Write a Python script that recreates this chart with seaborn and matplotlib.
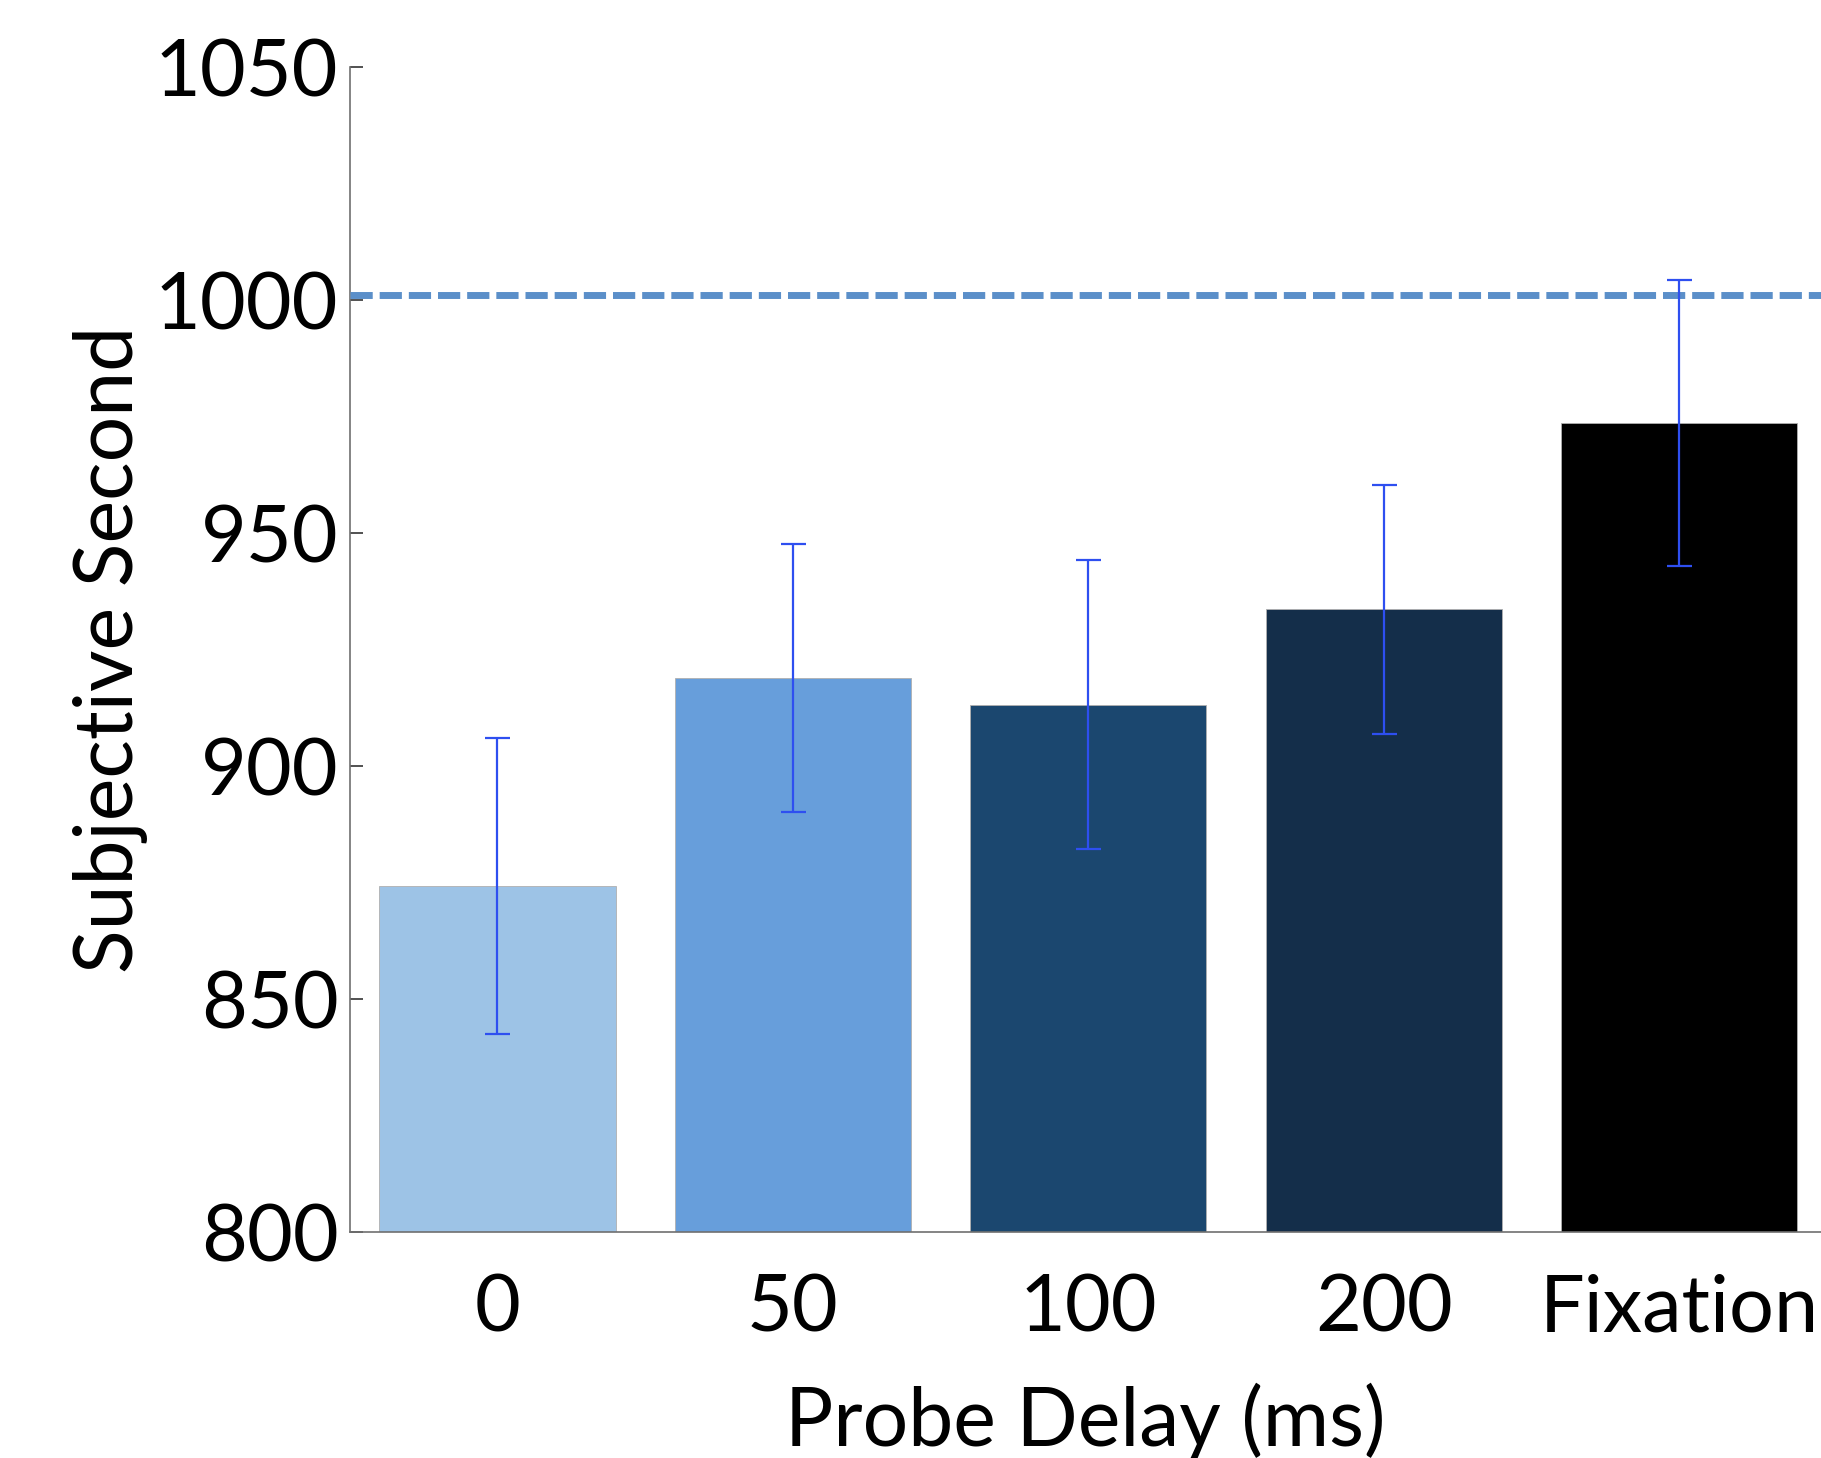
import numpy as np
import matplotlib
matplotlib.use('Agg')
import matplotlib.pyplot as plt
import seaborn as sns
import pandas as pd

# data
delays = ['0', '50', '100', '200', 'Fixation']
means = [874.3, 918.9, 913.2, 933.6, 973.7]
sems = [31.8, 28.8, 31.1, 26.7, 30.7]
bar_colors = ['#9DC3E6', '#679EDB', '#1B476F', '#142E4A', '#000000']
reference_ms = 1001

sns.set_theme(style='white')
plt.rcParams['font.family'] = ['Lato', 'DejaVu Sans']

df = pd.DataFrame({'delay': delays, 'mean': means, 'sem': sems})

fig = plt.figure(figsize=(18.21, 14.58), dpi=100)
ax = fig.add_axes([0.192, 0.155, 0.808, 0.799])

sns.barplot(data=df, x='delay', y='mean', hue='delay', palette=bar_colors,
            saturation=1, legend=False, width=0.8, edgecolor='#b0b0b0',
            linewidth=0.6, ax=ax)
ax.errorbar(range(len(delays)), df['mean'], yerr=df['sem'], fmt='none',
            ecolor='#2E4FF0', elinewidth=1.6, capsize=9, capthick=1.6, zorder=5)

ax.axhline(reference_ms, color='#5B8FC9', lw=5, dashes=(3.2, 1.0), zorder=4)

ax.set_ylim(800, 1050)
ax.set_xlim(-0.5, 4.48)
ax.set_yticks([800, 850, 900, 950, 1000, 1050])

for side in ['top', 'right']:
    ax.spines[side].set_visible(False)
for side in ['left', 'bottom']:
    ax.spines[side].set_color('#707070')
    ax.spines[side].set_linewidth(1.2)

ax.tick_params(axis='both', direction='in', length=9, width=1.2, color='#333333',
               labelsize=57, labelcolor='black', left=True, bottom=True)
ax.tick_params(axis='y', pad=8)
ax.tick_params(axis='x', pad=30)

ax.set_xlabel('Probe Delay (ms)', fontsize=58, labelpad=26, color='black')
ax.set_ylabel('Subjective Second', fontsize=58, labelpad=5, color='black')

plt.savefig('out.png', dpi=100)
plt.close()
